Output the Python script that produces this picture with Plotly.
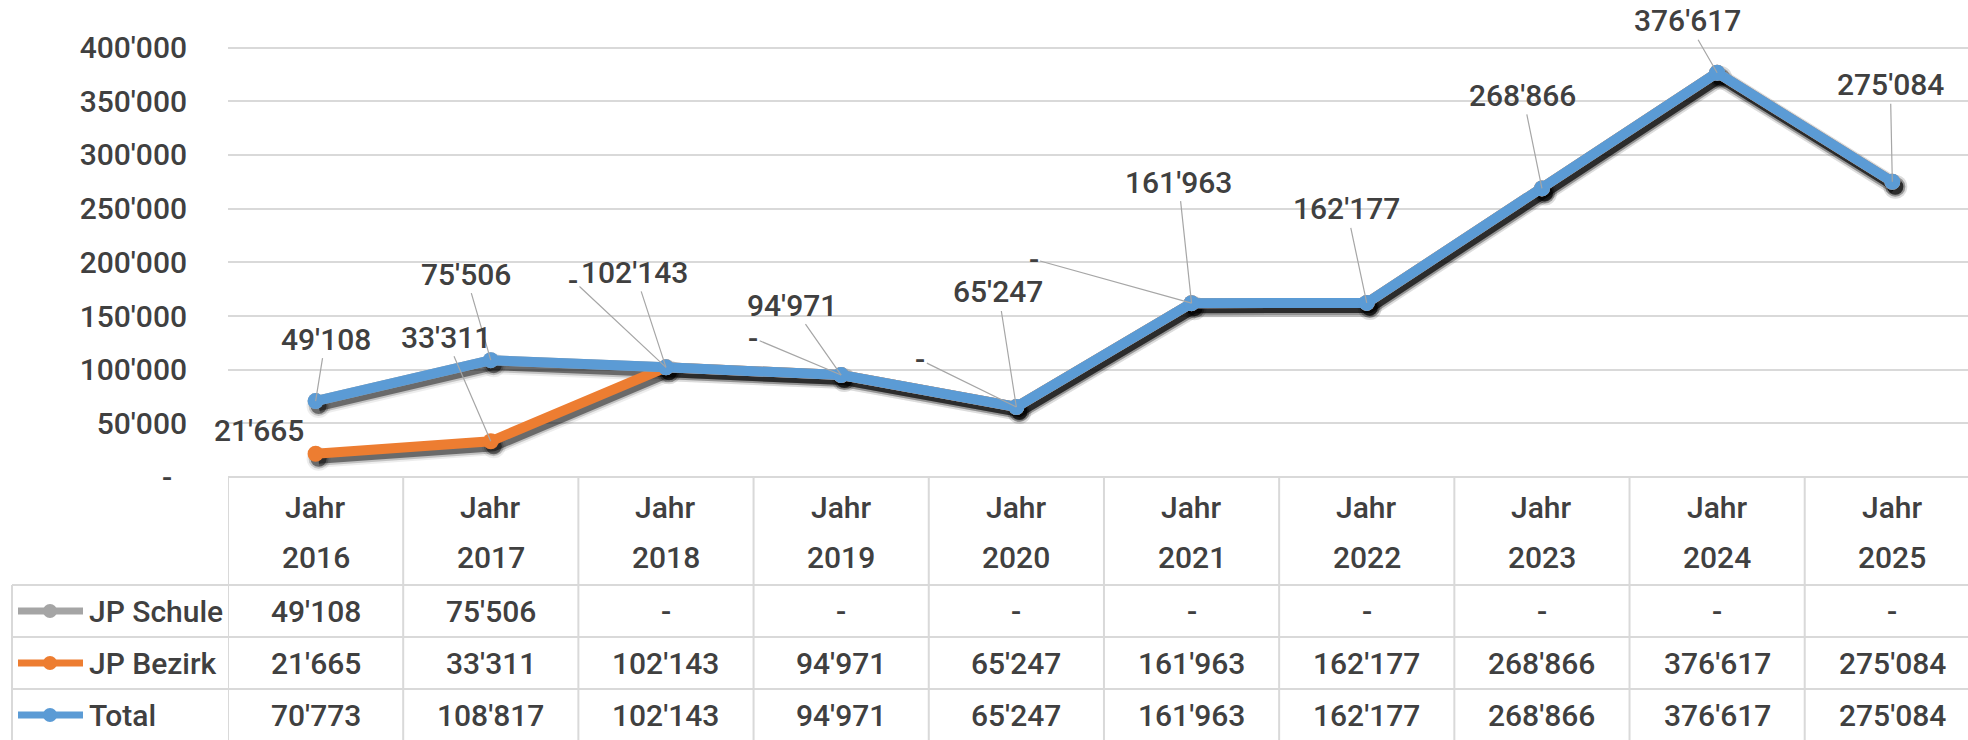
import plotly.graph_objects as go

# ---------------- data ----------------
years = ["2016", "2017", "2018", "2019", "2020", "2021", "2022", "2023", "2024", "2025"]
header_word = "Jahr"
series_names = ["JP Schule", "JP Bezirk", "Total"]
jp_schule = [49108, 75506, 0, 0, 0, 0, 0, 0, 0, 0]
jp_bezirk = [21665, 33311, 102143, 94971, 65247, 161963, 162177, 268866, 376617, 275084]
total = [70773, 108817, 102143, 94971, 65247, 161963, 162177, 268866, 376617, 275084]
y_tick_vals = [0, 50000, 100000, 150000, 200000, 250000, 300000, 350000, 400000]

# which data labels are visible and where they sit (pixel offsets from the point)
schule_label_idx = [0, 1, 2, 3, 4, 5]
schule_label_ax = [10, -25, -93, -88, -96, -158]
schule_label_ay = [-62, -86, -87, -37, -47, -44]
bezirk_label_ax = [-57, -45, -31, -49, -18, -13, -20, -19, -30, -2]
bezirk_label_ay = [-23, -104, -95, -70, -115, -121, -94, -93, -52, -97]
bezirk_label_leader = [False, True, True, True, True, True, True, True, True, True]

# ---------------- style ----------------
COLORS = {"JP Schule": "#A5A5A5", "JP Bezirk": "#ED7D31", "Total": "#5B9BD5"}
FONT = "Roboto, Calibri, sans-serif"
TXT = "#404040"
FS = 30
WEIGHT = 500
GRID = "#D9D9D9"
W, H = 1968, 740
LEFT = 228          # left edge of plot area (px)
BOT = 477           # bottom of plot area (px) = top of table
PW, PH = W - LEFT, BOT
X_RANGE = [-0.5, 9.432]
Y_RANGE = [0, 444400]
DX = 3 * (X_RANGE[1] - X_RANGE[0]) / PW      # shadow offset right (3 px)
DY = 5 * (Y_RANGE[1] - Y_RANGE[0]) / PH      # shadow offset down (5 px)
LW = 10


def fmt(v):
    return "-" if v == 0 else f"{v:,}".replace(",", "'")


def ppx(p):
    return (p - LEFT) / PW


def ppy(p):
    return (BOT - p) / PH


fig = go.Figure()

# ---- soft shadows (main axes, shifted range) ----
for width, alpha in [(LW + 8, 0.07), (LW + 4, 0.18), (LW, 0.45)]:
    sc = f"rgba(0,0,0,{alpha})"
    for vals in (jp_bezirk, total):
        fig.add_trace(go.Scatter(x=years, y=vals, mode="lines+markers", xaxis="x", yaxis="y",
                                 line=dict(color=sc, width=width),
                                 marker=dict(size=width + 6, color=sc),
                                 showlegend=False, hoverinfo="skip"))

# ---- real lines (overlay axes) ----
fig.add_trace(go.Scatter(x=years, y=jp_bezirk, name="JP Bezirk", mode="lines+markers",
                         stackgroup="stk", fill="none", xaxis="x2", yaxis="y2",
                         line=dict(color=COLORS["JP Bezirk"], width=LW),
                         marker=dict(size=16, color=COLORS["JP Bezirk"]), showlegend=False))
fig.add_trace(go.Scatter(x=years, y=jp_schule, name="JP Schule", mode="lines+markers",
                         stackgroup="stk", fill="none", xaxis="x2", yaxis="y2",
                         line=dict(color=COLORS["JP Schule"], width=LW),
                         marker=dict(size=16, color=COLORS["JP Schule"]), showlegend=False))
fig.add_trace(go.Scatter(x=years, y=total, name="Total", mode="lines+markers",
                         xaxis="x2", yaxis="y2",
                         line=dict(color=COLORS["Total"], width=LW),
                         marker=dict(size=16, color=COLORS["Total"]), showlegend=False))

annotations = []
lab_font = dict(family=FONT, size=FS, color=TXT, weight=WEIGHT)

# data labels: JP Schule (stacked on top of JP Bezirk)
for k, i in enumerate(schule_label_idx):
    annotations.append(dict(x=i, y=jp_bezirk[i] + jp_schule[i], xref="x2", yref="y2",
                            text=fmt(jp_schule[i]), showarrow=True, arrowhead=0, arrowwidth=1.2,
                            arrowcolor="#A6A6A6", ax=schule_label_ax[k], ay=schule_label_ay[k],
                            font=lab_font))
# data labels: JP Bezirk
for i in range(len(years)):
    annotations.append(dict(x=i, y=jp_bezirk[i], xref="x2", yref="y2",
                            text=fmt(jp_bezirk[i]), showarrow=True, arrowhead=0, arrowwidth=1.2,
                            arrowcolor="#A6A6A6" if bezirk_label_leader[i] else "rgba(0,0,0,0)",
                            ax=bezirk_label_ax[i], ay=bezirk_label_ay[i], font=lab_font))

# ---- data table below the chart ----
row_centers = [611, 663, 715]
row_values = [jp_schule, jp_bezirk, total]
for i, yr in enumerate(years):
    annotations.append(dict(x=i, y=ppy(508), xref="x2", yref="paper", text=header_word,
                            showarrow=False, font=lab_font, yanchor="middle"))
    annotations.append(dict(x=i, y=ppy(557), xref="x2", yref="paper", text=yr,
                            showarrow=False, font=lab_font, yanchor="middle"))
    for r, vals in enumerate(row_values):
        annotations.append(dict(x=i, y=ppy(row_centers[r]), xref="x2", yref="paper",
                                text=fmt(vals[i]), showarrow=False, font=lab_font, yanchor="middle"))

shapes = []
line_style = dict(color=GRID, width=2)
shapes.append(dict(type="line", xref="paper", yref="paper", x0=0, x1=1, y0=0, y1=0, line=line_style))
for p in [585, 637, 689]:
    shapes.append(dict(type="line", xref="paper", yref="paper", x0=ppx(12), x1=1,
                       y0=ppy(p), y1=ppy(p), line=line_style))
for k in range(len(years)):
    shapes.append(dict(type="line", xref="x2", yref="paper", x0=k - 0.5, x1=k - 0.5,
                       y0=ppy(477), y1=ppy(745), line=line_style))
shapes.append(dict(type="line", xref="paper", yref="paper", x0=ppx(12), x1=ppx(12),
                   y0=ppy(585), y1=ppy(745), line=line_style))

# legend keys inside the table
for r, name in enumerate(series_names):
    c = COLORS[name]
    cy = row_centers[r]
    shapes.append(dict(type="line", xref="paper", yref="paper", x0=ppx(18), x1=ppx(83),
                       y0=ppy(cy), y1=ppy(cy), line=dict(color=c, width=7)))
    shapes.append(dict(type="circle", xref="paper", yref="paper", x0=ppx(43), x1=ppx(57),
                       y0=ppy(cy + 7), y1=ppy(cy - 7), fillcolor=c, line=dict(width=0)))
    annotations.append(dict(x=ppx(87), y=ppy(cy), xref="paper", yref="paper", text=name,
                            showarrow=False, xanchor="left", yanchor="middle", font=lab_font))

fig.update_layout(
    width=W, height=H, autosize=False,
    margin=dict(l=LEFT, r=0, t=0, b=H - BOT, pad=0),
    paper_bgcolor="white", plot_bgcolor="white",
    font=dict(family=FONT, size=FS, color=TXT),
    showlegend=False,
    xaxis=dict(type="category", categoryorder="array", categoryarray=years,
               range=[X_RANGE[0] - DX, X_RANGE[1] - DX], showgrid=False, zeroline=False,
               showticklabels=False, showline=False, fixedrange=True),
    yaxis=dict(range=[Y_RANGE[0] + DY, Y_RANGE[1] + DY], showgrid=False, zeroline=False,
               showticklabels=False, showline=False, fixedrange=True),
    xaxis2=dict(type="category", categoryorder="array", categoryarray=years,
                range=X_RANGE, overlaying="x", anchor="y2", showgrid=False, zeroline=False,
                showticklabels=False, showline=False),
    yaxis2=dict(range=Y_RANGE, overlaying="y", anchor="x2", side="left",
                tickvals=y_tick_vals,
                ticktext=[("-\u00a0\u00a0" if v == 0 else fmt(v)) for v in y_tick_vals],
                showgrid=True, gridcolor=GRID, gridwidth=2, zeroline=False, showline=False,
                ticks="", ticklabelstandoff=40,
                tickfont=dict(family=FONT, size=FS, color=TXT, weight=WEIGHT)),
    annotations=annotations,
    shapes=shapes,
)

fig.write_html("out.html", config={"displayModeBar": False},
               post_script="document.body.style.margin='0';document.body.style.overflow='hidden';")
